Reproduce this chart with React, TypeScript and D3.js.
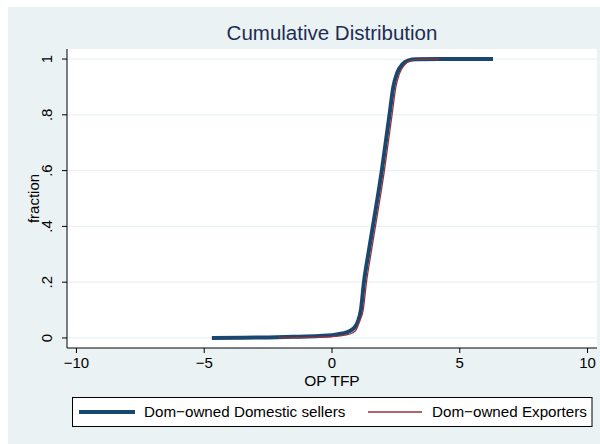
import React from "react";
import * as d3 from "d3";

const domX = [-4.7, -3.5, -2.5, -1.5, -0.5, 0, 0.4, 0.7, 0.9, 1.02, 1.13, 1.25, 1.42, 1.6, 1.78, 1.95, 2.1, 2.25, 2.4, 2.55, 2.75, 3.0, 3.3, 4.5, 6.3];
const domY = [0, 0.001, 0.002, 0.004, 0.007, 0.01, 0.016, 0.025, 0.04, 0.06, 0.1, 0.2, 0.3, 0.4, 0.5, 0.6, 0.7, 0.8, 0.9, 0.95, 0.98, 0.995, 0.999, 1, 1];
const expX = [-2.1, -1.5, -0.5, 0, 0.5, 0.8, 0.95, 1.08, 1.22, 1.35, 1.52, 1.7, 1.88, 2.05, 2.2, 2.35, 2.5, 2.65, 2.85, 3.1, 3.5, 4.2];
const expY = [0, 0.001, 0.003, 0.005, 0.01, 0.018, 0.03, 0.06, 0.1, 0.2, 0.3, 0.4, 0.5, 0.6, 0.7, 0.8, 0.9, 0.95, 0.98, 0.995, 0.999, 1];

const xTicks = [-10, -5, 0, 5, 10];
const yTicks = [0, 0.2, 0.4, 0.6, 0.8, 1];
const yTickLabels = ["0", ".2", ".4", ".6", ".8", "1"];
const seriesNames = ["Dom\u2212owned Domestic sellers", "Dom\u2212owned Exporters"];

const font = "'Liberation Sans', Arial, Helvetica, sans-serif";
const bg = "#eaf2f3";
const blue = "#1a476f";
const red = "#90353b";

const plot = { left: 67, right: 597, top: 49, bottom: 348 };

const App = () => {
  const x = d3.scaleLinear().domain([-10.37, 10.37]).range([plot.left, plot.right]);
  const y = d3.scaleLinear().domain([-0.036, 1.036]).range([plot.bottom, plot.top]);

  const line = d3
    .line<[number, number]>()
    .x((d) => x(d[0]))
    .y((d) => y(d[1]))
    .curve(d3.curveMonotoneX);

  const domPts = domX.map((v, i) => [v, domY[i]] as [number, number]);
  const expPts = expX.map((v, i) => [v, expY[i]] as [number, number]);

  const fmtX = (v: number) => (v < 0 ? "\u2212" + Math.abs(v) : String(v));

  return (
    <svg
      width={600}
      height={444}
      style={{ position: "absolute", left: 0, top: 0, fontFamily: font }}
    >
      <rect x={8} y={7} width={592} height={437} fill={bg} />
      <text x={332} y={39.5} textAnchor="middle" fontSize={20.5} fill="#1e2d53">
        Cumulative Distribution
      </text>

      {/* plot region */}
      <rect x={plot.left} y={plot.top} width={plot.right - plot.left} height={plot.bottom - plot.top} fill="#fff" />
      {yTicks.map((t) => (
        <line key={t} x1={plot.left} x2={plot.right} y1={y(t)} y2={y(t)} stroke={bg} strokeWidth={1.2} />
      ))}

      <path d={line(domPts) || ""} fill="none" stroke={blue} strokeWidth={4} />
      <path d={line(expPts) || ""} fill="none" stroke={red} strokeWidth={1.3} />

      {/* y axis */}
      <line x1={plot.left} x2={plot.left} y1={plot.top} y2={plot.bottom} stroke="#000" strokeWidth={1} />
      {yTicks.map((t, i) => (
        <g key={t}>
          <line x1={plot.left - 5} x2={plot.left} y1={y(t)} y2={y(t)} stroke="#000" />
          <text
            transform={`translate(${plot.left - 15},${y(t)}) rotate(-90)`}
            textAnchor="middle"
            fontSize={15}
            fill="#000"
          >
            {yTickLabels[i]}
          </text>
        </g>
      ))}
      <text transform={`translate(39,${(plot.top + plot.bottom) / 2}) rotate(-90)`} textAnchor="middle" fontSize={15}>
        fraction
      </text>

      {/* x axis */}
      <line x1={plot.left} x2={plot.right} y1={plot.bottom} y2={plot.bottom} stroke="#000" strokeWidth={1} />
      {xTicks.map((t) => (
        <g key={t}>
          <line x1={x(t)} x2={x(t)} y1={plot.bottom} y2={plot.bottom + 5} stroke="#000" />
          <text x={x(t)} y={plot.bottom + 20} textAnchor="middle" fontSize={15}>
            {fmtX(t)}
          </text>
        </g>
      ))}
      <text x={332} y={386} textAnchor="middle" fontSize={15.5}>
        OP TFP
      </text>

      {/* legend */}
      <rect x={72.5} y={397.5} width={519.5} height={29} fill="#fff" stroke="#000" strokeWidth={1} />
      <line x1={79} x2={135} y1={412} y2={412} stroke={blue} strokeWidth={4} />
      <text x={144} y={417} fontSize={15.2}>{seriesNames[0]}</text>
      <line x1={368} x2={422} y1={412} y2={412} stroke={red} strokeWidth={1.3} />
      <text x={432} y={417} fontSize={15.2}>{seriesNames[1]}</text>
    </svg>
  );
};

export default App;
